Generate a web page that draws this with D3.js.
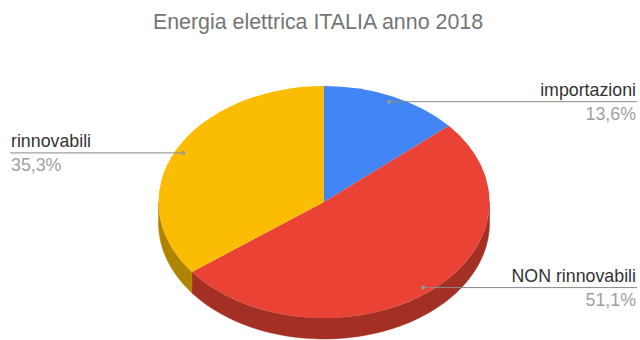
<!DOCTYPE html>
<html>
<head>
<meta charset="utf-8">
<script src="https://cdn.jsdelivr.net/npm/d3@7"></script>
<style>
  html, body { margin: 0; padding: 0; background: #fff; }
  svg { display: block; }
</style>
</head>
<body>
<svg id="chart" width="640" height="340"></svg>
<script>
const title = "Energia elettrica ITALIA anno 2018";
const categories = ["importazioni", "NON rinnovabili", "rinnovabili"];
const values = [13.6, 51.1, 35.3];
const colors = ["#4285F4", "#EA4335", "#FBBC04"];
const labelSide = ["right", "right", "left"];

const W = 640, H = 340;
const cx = 324, cy = 202, rx = 165.5, ry = 116, depth = 21;
const labelFrac = 0.95;
const font = "Arial, 'Liberation Sans', sans-serif";

const svg = d3.select("#chart");

svg.append("text")
  .attr("x", 318).attr("y", 29)
  .attr("text-anchor", "middle")
  .attr("font-family", font)
  .attr("font-size", 21.4)
  .attr("fill", "#757575")
  .text(title);

const total = d3.sum(values);
const pie = d3.pie().sort(null).startAngle(0).endAngle(2 * Math.PI);
const arcs = pie(values);

// projection helpers (angle 0 at top, clockwise)
const px = a => cx + rx * Math.sin(a);
const py = a => cy - ry * Math.cos(a);

// sides (front half: angles between PI/2 and 3PI/2)
const sideArea = d3.area()
  .x(a => px(a))
  .y0(a => py(a))
  .y1(a => py(a) + depth);

const gSide = svg.append("g");
arcs.forEach((d, i) => {
  const a0 = Math.max(d.startAngle, Math.PI / 2);
  const a1 = Math.min(d.endAngle, 3 * Math.PI / 2);
  if (a1 <= a0) return;
  const n = 80;
  const samples = d3.range(n + 1).map(k => a0 + (a1 - a0) * k / n);
  gSide.append("path")
    .attr("d", sideArea(samples))
    .attr("fill", d3.color(colors[i]).darker(1).formatHex())
    .attr("stroke", d3.color(colors[i]).darker(1).formatHex())
    .attr("stroke-width", 0.5);
});

// top faces
const arcGen = d3.arc().innerRadius(0).outerRadius(rx);
const gTop = svg.append("g")
  .attr("transform", `translate(${cx},${cy}) scale(1,${ry / rx})`);
gTop.selectAll("path")
  .data(arcs)
  .join("path")
  .attr("d", arcGen)
  .attr("fill", (d, i) => colors[i]);

// labels
const fmt = v => d3.format(".1%")(v / total).replace(".", ",");
const gLab = svg.append("g").attr("font-family", font);
arcs.forEach((d, i) => {
  const mid = (d.startAngle + d.endAngle) / 2;
  const x = cx + rx * labelFrac * Math.sin(mid);
  const y = cy - ry * labelFrac * Math.cos(mid);
  const right = labelSide[i] === "right";
  const xe = right ? 637 : 10;
  gLab.append("line")
    .attr("x1", x).attr("y1", y).attr("x2", xe).attr("y2", y)
    .attr("stroke", "#8a8a8a").attr("stroke-width", 1);
  gLab.append("circle")
    .attr("cx", x).attr("cy", y).attr("r", 2)
    .attr("fill", "#9a9a9a");
  const tx = right ? 636 : 11;
  const anchor = right ? "end" : "start";
  gLab.append("text")
    .attr("x", tx).attr("y", y - 5.5)
    .attr("text-anchor", anchor)
    .attr("font-size", 17.8)
    .attr("fill", "#333")
    .text(categories[i]);
  gLab.append("text")
    .attr("x", tx).attr("y", y + 18.5)
    .attr("text-anchor", anchor)
    .attr("font-size", 17.8)
    .attr("fill", "#a0a0a0")
    .text(fmt(values[i]));
});
</script>
</body>
</html>
